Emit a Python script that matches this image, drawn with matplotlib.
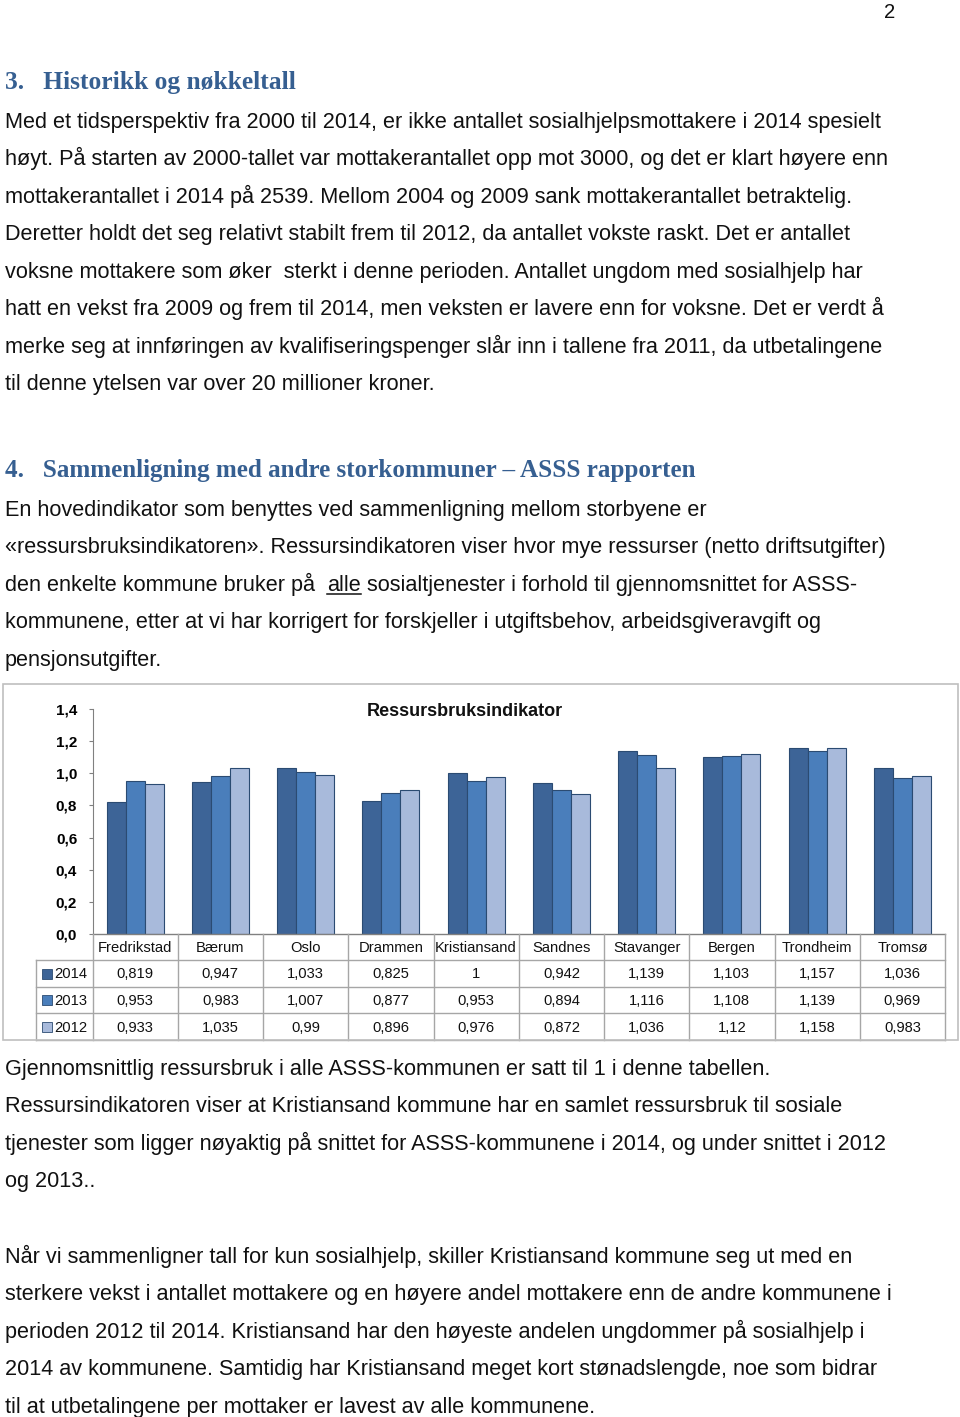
import matplotlib
matplotlib.use("Agg")
import matplotlib.pyplot as plt
from matplotlib.patches import Rectangle
from matplotlib.lines import Line2D

W, H = 960, 1417
fig = plt.figure(figsize=(W / 100, H / 100), dpi=100)

BODY = ["Liberation Sans", "DejaVu Sans"]
NARROW = ["Liberation Sans", "DejaVu Sans"]
HEAD = ["Liberation Serif", "DejaVu Serif"]
HEAD_COLOR = "#365F91"
TEXT_COLOR = "#111111"

# ---------------- data ----------------
categories = ["Fredrikstad", "Bærum", "Oslo", "Drammen", "Kristiansand",
              "Sandnes", "Stavanger", "Bergen", "Trondheim", "Tromsø"]
years = ["2014", "2013", "2012"]
v2014 = [0.819, 0.947, 1.033, 0.825, 1.0, 0.942, 1.139, 1.103, 1.157, 1.036]
v2013 = [0.953, 0.983, 1.007, 0.877, 0.953, 0.894, 1.116, 1.108, 1.139, 0.969]
v2012 = [0.933, 1.035, 0.99, 0.896, 0.976, 0.872, 1.036, 1.12, 1.158, 0.983]
yticks = [0.0, 0.2, 0.4, 0.6, 0.8, 1.0, 1.2, 1.4]
chart_title = "Ressursbruksindikator"

heading3 = "3.   Historikk og nøkkeltall"
para1 = [
    "Med et tidsperspektiv fra 2000 til 2014, er ikke antallet sosialhjelpsmottakere i 2014 spesielt",
    "høyt. På starten av 2000-tallet var mottakerantallet opp mot 3000, og det er klart høyere enn",
    "mottakerantallet i 2014 på 2539. Mellom 2004 og 2009 sank mottakerantallet betraktelig.",
    "Deretter holdt det seg relativt stabilt frem til 2012, da antallet vokste raskt. Det er antallet",
    "voksne mottakere som øker  sterkt i denne perioden. Antallet ungdom med sosialhjelp har",
    "hatt en vekst fra 2009 og frem til 2014, men veksten er lavere enn for voksne. Det er verdt å",
    "merke seg at innføringen av kvalifiseringspenger slår inn i tallene fra 2011, da utbetalingene",
    "til denne ytelsen var over 20 millioner kroner.",
]
heading4 = "4.   Sammenligning med andre storkommuner – ASSS rapporten"
para2 = [
    "En hovedindikator som benyttes ved sammenligning mellom storbyene er",
    "«ressursbruksindikatoren». Ressursindikatoren viser hvor mye ressurser (netto driftsutgifter)",
    None,  # line with underlined word
    "kommunene, etter at vi har korrigert for forskjeller i utgiftsbehov, arbeidsgiveravgift og",
    "pensjonsutgifter.",
]
underline_line = ("den enkelte kommune bruker på  ", "alle",
                  " sosialtjenester i forhold til gjennomsnittet for ASSS-")
para3 = [
    "Gjennomsnittlig ressursbruk i alle ASSS-kommunen er satt til 1 i denne tabellen.",
    "Ressursindikatoren viser at Kristiansand kommune har en samlet ressursbruk til sosiale",
    "tjenester som ligger nøyaktig på snittet for ASSS-kommunene i 2014, og under snittet i 2012",
    "og 2013..",
]
para4 = [
    "Når vi sammenligner tall for kun sosialhjelp, skiller Kristiansand kommune seg ut med en",
    "sterkere vekst i antallet mottakere og en høyere andel mottakere enn de andre kommunene i",
    "perioden 2012 til 2014. Kristiansand har den høyeste andelen ungdommer på sosialhjelp i",
    "2014 av kommunene. Samtidig har Kristiansand meget kort stønadslengde, noe som bidrar",
    "til at utbetalingene per mottaker er lavest av alle kommunene.",
]

# ---------------- helpers ----------------
def fx(px):
    return px / W

def fy(py):
    return 1 - py / H

BODY_SIZE = 15.55
LINE_H = 37.45

def body_line(y_center, s, **kw):
    return fig.text(fx(5), fy(y_center + 7), s, fontsize=BODY_SIZE, family=BODY,
                    color=TEXT_COLOR, va="baseline", ha="left", **kw)

# page number
fig.text(fx(884), fy(18), "2", fontsize=BODY_SIZE - 1, family=BODY,
         color=TEXT_COLOR, va="baseline")

# heading 3
fig.text(fx(5), fy(89), heading3, fontsize=18.4, family=HEAD, weight="bold",
         color=HEAD_COLOR, va="baseline")
for i, s in enumerate(para1):
    body_line(121 + i * LINE_H, s)

# heading 4
fig.text(fx(5), fy(477), heading4, fontsize=18.05, family=HEAD, weight="bold",
         color=HEAD_COLOR, va="baseline")
renderer = fig.canvas.get_renderer()
for i, s in enumerate(para2):
    yc = 509 + i * LINE_H
    if s is not None:
        body_line(yc, s)
    else:
        a, b, c = underline_line
        t1 = body_line(yc, a)
        bb1 = t1.get_window_extent(renderer)
        t2 = fig.text(bb1.x1 / W, fy(yc + 7), b, fontsize=BODY_SIZE, family=BODY,
                      color=TEXT_COLOR, va="baseline", ha="left")
        bb2 = t2.get_window_extent(renderer)
        fig.text(bb2.x1 / W, fy(yc + 7), c, fontsize=BODY_SIZE, family=BODY,
                 color=TEXT_COLOR, va="baseline", ha="left")
        uy = fy(yc + 10)
        fig.add_artist(Line2D([bb2.x0 / W, bb2.x1 / W], [uy, uy],
                              color=TEXT_COLOR, lw=1.1, transform=fig.transFigure))

for i, s in enumerate(para3):
    body_line(1068 + i * LINE_H, s)
for i, s in enumerate(para4):
    body_line(1256 + i * LINE_H, s)

# ---------------- chart ----------------
fig.add_artist(Rectangle((fx(3), fy(1040)), fx(958) - fx(3), fy(684) - fy(1040),
                         transform=fig.transFigure, fill=False,
                         edgecolor="#BFBFBF", lw=1.2))

ax_l, ax_r, ax_t, ax_b = 92.5, 945, 709, 934
ax = fig.add_axes([fx(ax_l), fy(ax_b), fx(ax_r) - fx(ax_l), fy(ax_t) - fy(ax_b)])
n = len(categories)
xs = list(range(n))
bw = 0.223
colors = ["#3D6497", "#4A7EBB", "#A8BADB"]
edge = "#2B4B72"
for k, (vals, col) in enumerate(zip([v2014, v2013, v2012], colors)):
    ax.bar([x + (k - 1) * bw for x in xs], vals, width=bw, color=col,
           edgecolor=edge, linewidth=0.8, zorder=3)
ax.set_xlim(-0.5, n - 0.5)
ax.set_ylim(0, 1.4)
ax.set_yticks(yticks)
ax.set_yticklabels([f"{t:.1f}".replace(".", ",") for t in yticks],
                   fontsize=11, family=NARROW, weight="bold")
ax.tick_params(axis="y", length=3, width=0.8, color="#808080", pad=8)
ax.set_xticks([])
for sp in ["top", "right", "bottom"]:
    ax.spines[sp].set_visible(False)
ax.spines["left"].set_color("#808080")
ax.spines["left"].set_linewidth(0.8)
ax.patch.set_alpha(0)

fig.text(fx(465), fy(711), chart_title, fontsize=13, family=NARROW,
         weight="bold", ha="center", va="center", color="#111111")

# data table
tb_l, tb_r, tb_t, tb_b = 36, 945, 934, 1040
tax = fig.add_axes([fx(tb_l), fy(tb_b), fx(tb_r) - fx(tb_l), fy(tb_t) - fy(tb_b)])
unit = (ax_r - ax_l) / n
x_left = -0.5 - (ax_l - tb_l) / unit
tax.set_xlim(x_left, n - 0.5)
row_edges = [0, 26, 53, 79, 106]
tax.set_ylim(row_edges[-1], 0)
tax.axis("off")
grid_c = "#A6A6A6"
lw = 1.0
tax.plot([-0.5, n - 0.5], [0, 0], color="#808080", lw=lw, clip_on=False)
for r in row_edges[1:]:
    tax.plot([x_left, n - 0.5], [r, r], color=grid_c, lw=lw, clip_on=False)
for i in range(n + 1):
    tax.plot([i - 0.5, i - 0.5], [0, row_edges[-1]], color=grid_c, lw=lw, clip_on=False)
tax.plot([x_left, x_left], [row_edges[1], row_edges[-1]], color=grid_c, lw=lw, clip_on=False)

TS = 10.6
base_off = 5
for i, c in enumerate(categories):
    tax.text(i, (row_edges[0] + row_edges[1]) / 2 + base_off, c, ha="center", va="baseline",
             fontsize=TS, family=NARROW, color="#111111")
for r, (yr, vals, col) in enumerate(zip(years, [v2014, v2013, v2012], colors)):
    yc = (row_edges[r + 1] + row_edges[r + 2]) / 2
    sq = 10 / unit
    tax.add_patch(Rectangle((x_left + 6 / unit, yc - 5), sq, 10, facecolor=col,
                            edgecolor=edge, lw=0.6, clip_on=False))
    tax.text(x_left + 18 / unit, yc + base_off, yr, ha="left", va="baseline", fontsize=TS,
             family=NARROW, color="#111111")
    for i, v in enumerate(vals):
        tax.text(i, yc + base_off, f"{v:g}".replace(".", ","), ha="center", va="baseline",
                 fontsize=TS, family=NARROW, color="#111111")

fig.savefig("out.png", dpi=100)
